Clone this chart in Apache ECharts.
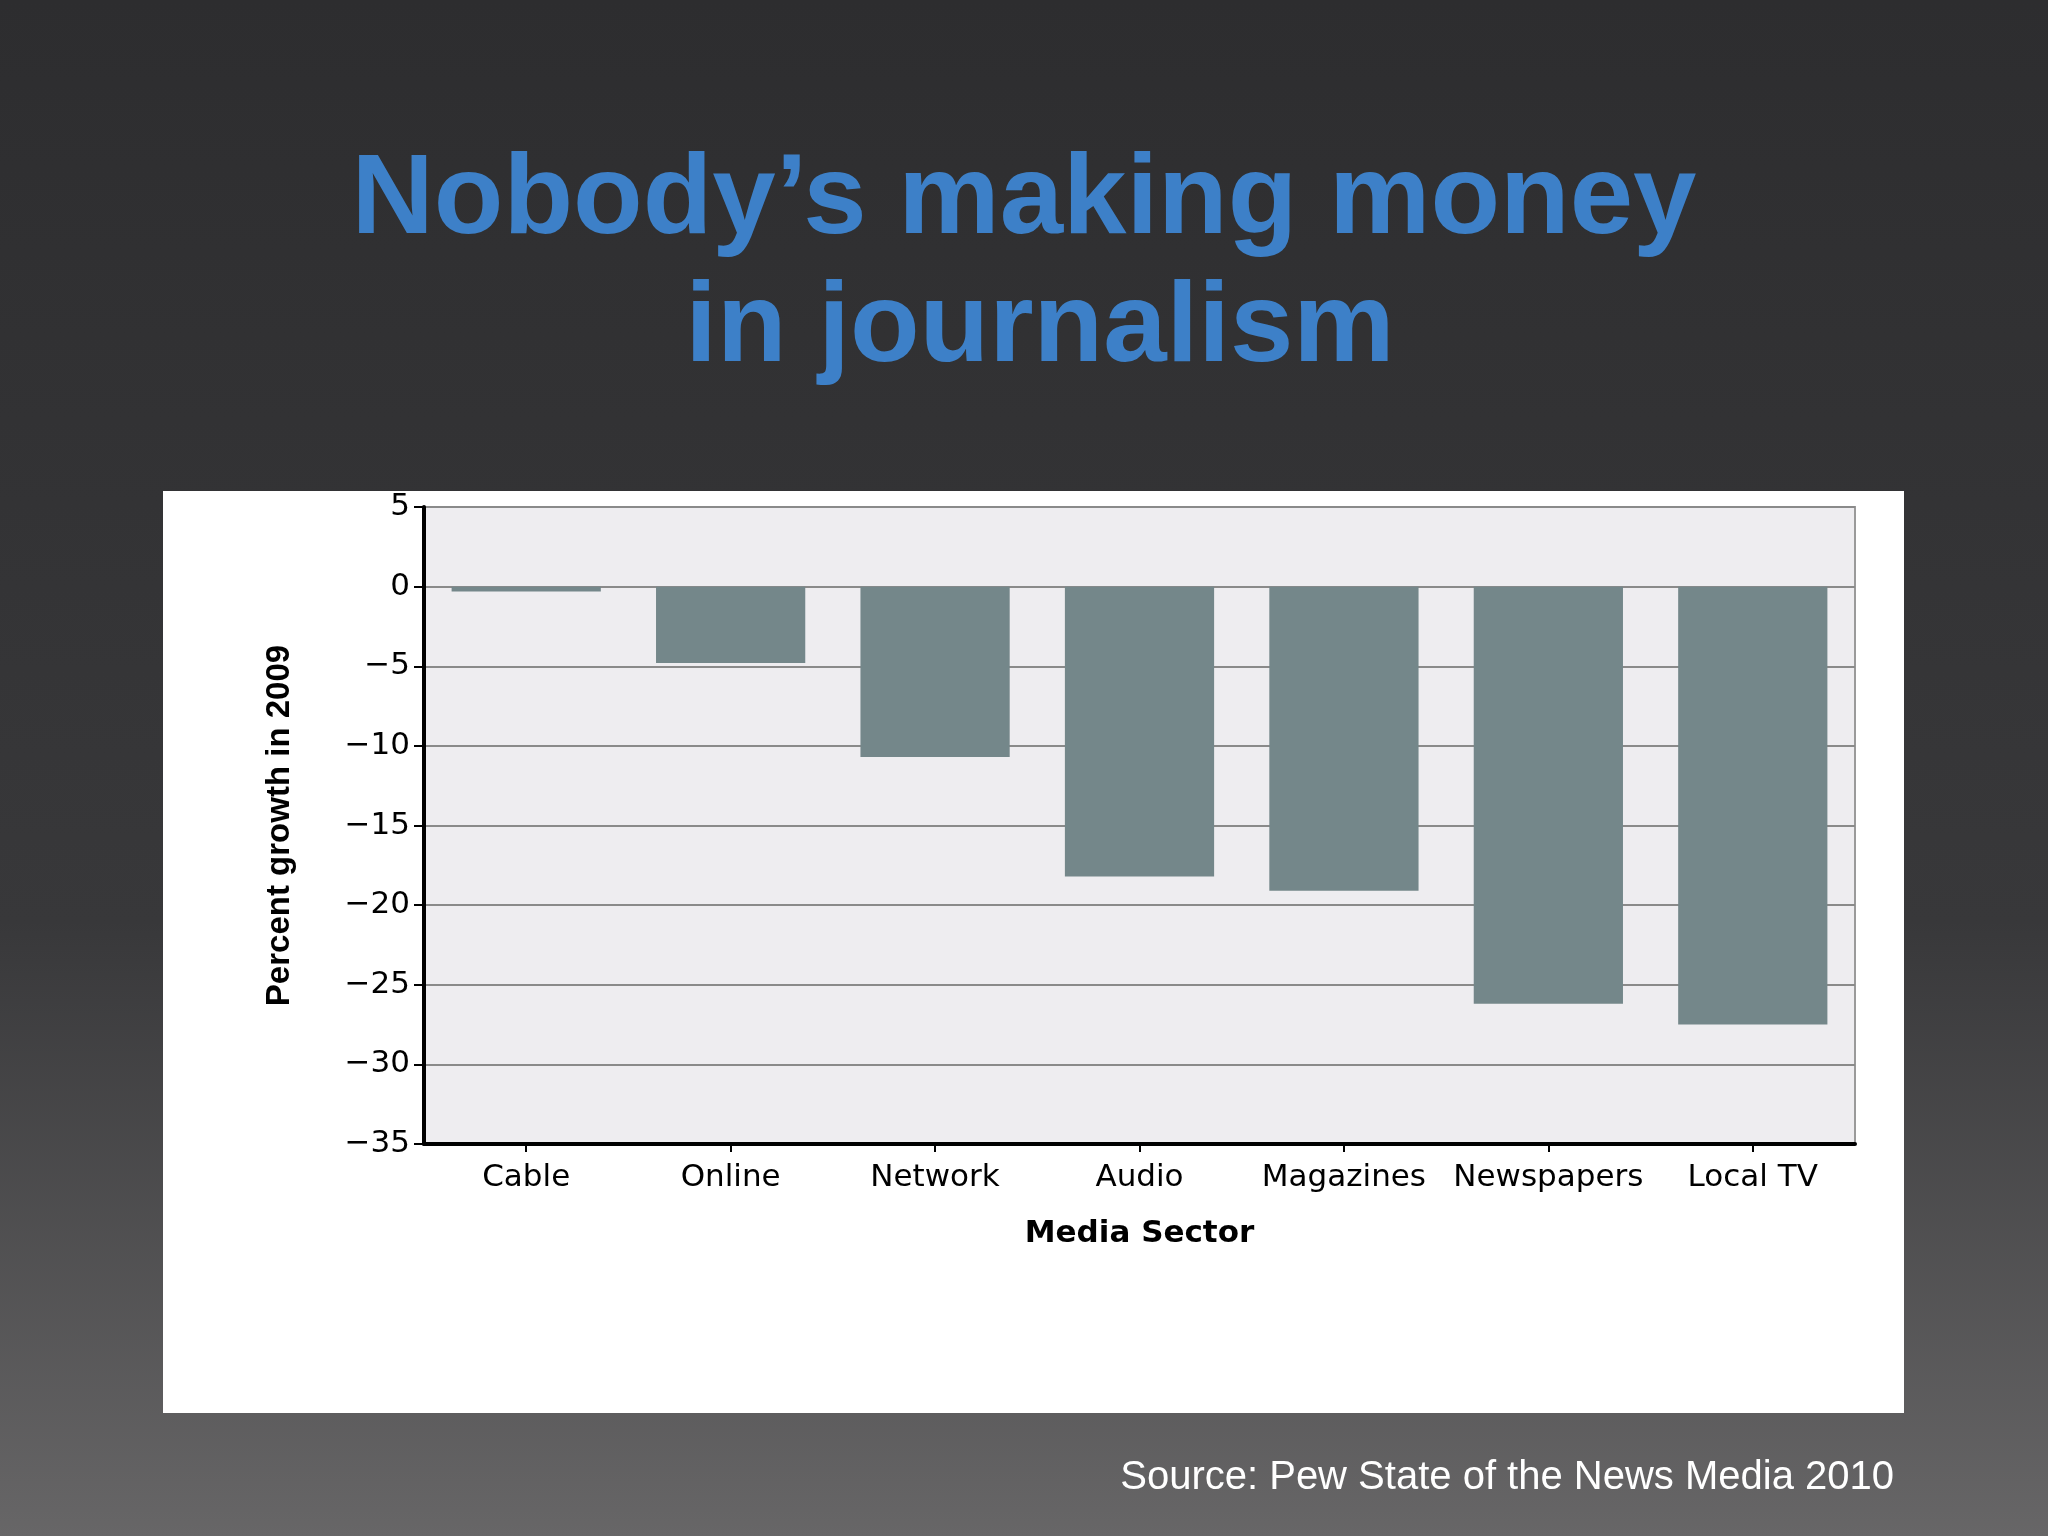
<!DOCTYPE html>
<html><head><meta charset="utf-8">
<script src="https://cdn.jsdelivr.net/npm/echarts@6/dist/echarts.min.js"></script>
<style>html,body{margin:0;padding:0;}#c{width:2048px;height:1536px;}</style>
</head><body><div id="c"></div>
<script>
const categories = ['Cable','Online','Network','Audio','Magazines','Newspapers','Local TV'];
const growth = [-0.3,-4.8,-10.7,-18.2,-19.1,-26.2,-27.5];
const titleLines = ['Nobody\u2019s making money','in journalism'];
const source = 'Source: Pew State of the News Media 2010';

const chart = echarts.init(document.getElementById('c'));
chart.setOption({
  backgroundColor: new echarts.graphic.LinearGradient(0,0,0,1,[
    {offset:0,color:'#2d2d2f'},{offset:0.6,color:'#38383a'},{offset:1,color:'#676667'}]),
  graphic: [
    {type:'rect', z:-10, shape:{x:163,y:491,width:1741,height:922}, style:{fill:'#ffffff'}},
    {type:'text', x:1024, y:145, style:{text:titleLines[0], fill:'#3d80c8', align:'center',
      font:'bold 114px "Liberation Sans", Arial, sans-serif'}},
    {type:'text', x:1040, y:273, style:{text:titleLines[1], fill:'#3d80c8', align:'center',
      font:'bold 114px "Liberation Sans", Arial, sans-serif'}},
    {type:'text', right:154, top:1458, style:{text:source, fill:'#ffffff',
      font:'40px "Liberation Sans", Arial, sans-serif'}}
  ],
  grid: {left:424, right:193, top:507, bottom:392, show:true, backgroundColor:'#eeedf0', borderColor:'#9a9a9a', borderWidth:2},
  xAxis: {type:'category', data:categories, position:'bottom',
    axisLine:{onZero:false, lineStyle:{color:'#000', width:4}},
    axisTick:{show:true, alignWithLabel:true, length:8, lineStyle:{color:'#000',width:2}},
    axisLabel:{color:'#000', fontSize:31, margin:18, fontFamily:'DejaVu Sans', interval:0},
    name:'Media Sector', nameLocation:'middle', nameGap:74,
    nameTextStyle:{color:'#000', fontSize:31, fontWeight:'bold', fontFamily:'DejaVu Sans'}},
  yAxis: {type:'value', min:-35, max:5, interval:5,
    axisLine:{show:true, lineStyle:{color:'#000', width:4}},
    axisTick:{show:true, length:10, lineStyle:{color:'#000',width:2}},
    axisLabel:{color:'#000', fontSize:31, margin:14, fontFamily:'DejaVu Sans',
      formatter:v=>String(v).replace('-','\u2212')},
    splitLine:{lineStyle:{color:'#8a8a8a', width:2}},
    name:'Percent growth in 2009', nameLocation:'middle', nameGap:128,
    nameTextStyle:{color:'#000', fontSize:33, fontWeight:'bold', fontFamily:'Liberation Sans Narrow, Liberation Sans'}},
  series: [{type:'bar', data:growth, barCategoryGap:'27%', itemStyle:{color:'#74878a'}}]
});
</script></body></html>
